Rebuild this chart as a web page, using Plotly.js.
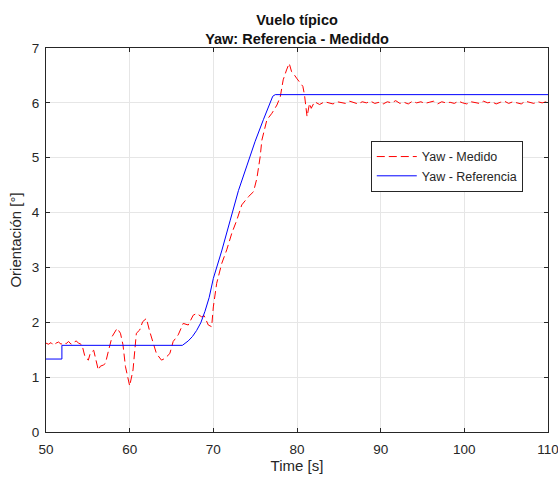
<!DOCTYPE html>
<html>
<head>
<meta charset="utf-8">
<script src="https://cdn.plot.ly/plotly-3.0.1.min.js"></script>
<style>html,body{margin:0;padding:0;background:#fff;}</style>
</head>
<body>
<div id="chart" style="width:558px;height:480px;"></div>
<script>
// Measured yaw (Yaw - Medido)
const tMedido = [50.0,50.3,50.6,50.9,51.2,51.5,51.8,52.1,52.4,52.7,53.0,53.3,53.6,53.9,54.3,54.66,55.06,55.3,55.7,56.25,56.5,56.85,57.1,57.5,57.9,58.5,58.9,59.2,59.5,60.0,60.4,60.8,61.2,61.55,62.0,62.4,62.8,63.2,63.8,64.2,64.8,65.2,65.8,66.4,67.0,67.6,68.0,68.6,68.9,69.4,69.8,70.0,70.4,71.0,71.6,72.2,72.8,73.4,74.2,74.8,75.2,75.6,75.8,76.4,77.0,77.6,78.0,78.35,78.75,79.07,79.35,79.5,79.95,80.35,80.7,80.9,81.2,81.5,81.7,82.1,82.7,83.3,
  83.8,84.3,84.8,85.3,85.8,86.3,86.8,87.3,87.8,88.3,88.8,89.3,89.8,90.3,90.8,91.3,91.8,92.3,92.8,93.3,93.8,94.3,94.8,95.3,95.8,96.3,96.8,97.3,97.8,98.3,98.8,99.3,99.8,100.3,100.8,101.3,101.8,102.3,102.8,103.3,103.8,104.3,104.8,105.3,105.8,106.3,106.8,107.3,107.8,108.3,108.8,109.3,109.8,110.0];
const yMedido = [1.62,1.60,1.63,1.58,1.62,1.64,1.60,1.63,1.61,1.65,1.60,1.63,1.66,1.62,1.59,1.37,1.31,1.44,1.49,1.13,1.20,1.22,1.25,1.50,1.74,1.89,1.80,1.59,1.19,0.84,1.13,1.80,1.86,2.01,2.07,1.83,1.62,1.43,1.31,1.34,1.43,1.65,1.77,1.98,1.95,2.13,2.16,2.10,2.12,1.95,1.92,2.28,2.71,3.07,3.32,3.62,3.86,4.14,4.29,4.38,4.62,5.02,5.32,5.69,5.81,5.96,6.11,6.42,6.60,6.72,6.57,6.55,6.45,6.36,6.30,6.14,5.75,5.99,5.90,6.02,5.97,6.02,
  6.00,5.98,6.02,6.01,5.99,6.03,6.00,5.98,6.02,6.00,6.03,5.99,6.01,5.98,6.02,6.00,6.04,5.99,6.01,5.98,6.03,6.00,6.02,5.99,6.01,6.03,5.98,6.02,6.00,6.01,5.99,6.03,6.00,5.98,6.02,6.01,5.99,6.03,6.00,6.02,5.98,6.01,6.03,5.99,6.02,6.00,5.98,6.03,6.01,5.99,6.02,6.00,6.02,6.01];

// Reference yaw (Yaw - Referencia)
const tReferencia = [50.0,51.9,51.9,66.3,67.0,67.5,68.0,68.5,69.0,69.5,70.0,71.0,72.0,73.0,74.0,75.0,76.0,76.8,77.1,77.4,110.0];
const yReferencia = [1.33,1.33,1.58,1.58,1.66,1.74,1.85,1.99,2.20,2.45,2.80,3.30,3.85,4.40,4.85,5.30,5.70,6.00,6.12,6.15,6.15];

const xTicks = [50,60,70,80,90,100,110];
const yTicks = [0,1,2,3,4,5,6,7];

const font = 'Liberation Sans, Arial, sans-serif';

const traces = [
  {x: tMedido, y: yMedido, name: 'Yaw - Medido', type: 'scatter', mode: 'lines',
   line: {color: 'rgb(255,0,0)', width: 1, dash: '8px,4px'}},
  {x: tReferencia, y: yReferencia, name: 'Yaw - Referencia', type: 'scatter', mode: 'lines',
   line: {color: 'rgb(0,0,255)', width: 1}}
];

const axisCommon = {
  showline: true, linecolor: '#262626', linewidth: 1, mirror: 'ticks',
  ticks: 'inside', ticklen: 4, tickcolor: '#262626',
  showgrid: true, gridcolor: 'rgb(230,230,230)', gridwidth: 1,
  zeroline: false, ticklabeloverflow: 'allow',
  tickfont: {family: font, size: 13.5, color: '#262626'}
};

const layout = {
  width: 558, height: 480,
  margin: {l: 46, r: 10, t: 48, b: 48},
  paper_bgcolor: '#fff', plot_bgcolor: '#fff',
  font: {family: font, color: '#262626'},
  title: {text: '<b>Vuelo típico</b><br><b>Yaw: Referencia - Mediddo</b>',
          font: {family: font, size: 14.5, color: '#111'},
          x: 0.5, xref: 'paper', yref: 'container', y: 1 - 25 / 480, yanchor: 'middle'},
  xaxis: Object.assign({}, axisCommon, {
    range: [50, 110], tickvals: xTicks, ticktext: xTicks.map(String),
    ticklabelstandoff: 5,
    title: {text: 'Time [s]', font: {family: font, size: 15, color: '#262626'}, standoff: 3}
  }),
  yaxis: Object.assign({}, axisCommon, {
    range: [0, 7], tickvals: yTicks, ticktext: yTicks.map(String),
    ticklabelstandoff: 3,
    title: {text: 'Orientación [°]', font: {family: font, size: 15, color: '#262626'}, standoff: 6}
  }),
  showlegend: true,
  legend: {x: 0.647, y: 0.758, xanchor: 'left', yanchor: 'top',
           bgcolor: '#fff', bordercolor: '#262626', borderwidth: 1,
           font: {family: font, size: 12.5, color: '#262626'},
           tracegroupgap: 0, itemwidth: 40}
};

Plotly.newPlot('chart', traces, layout, {displayModeBar: false, staticPlot: true});
</script>
</body>
</html>
